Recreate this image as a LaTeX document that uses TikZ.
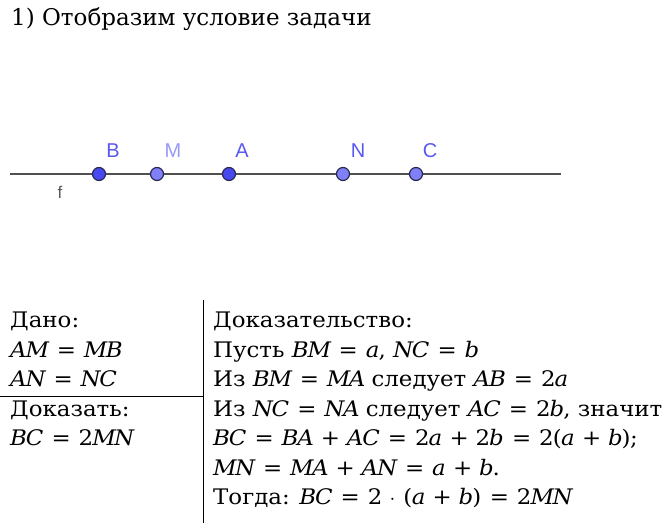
\documentclass[tikz,border=0pt]{standalone}
\usepackage{amsmath}
\usepackage[no-math]{fontspec}
\setmainfont{DejaVu Serif}[FakeStretch=1.07]
\newfontfamily\titlefont{DejaVu Serif}
\newfontfamily\mathletters{DejaVu Serif}[NFSSFamily=dvsm,FakeStretch=1.07]
\DeclareSymbolFont{letters}{TU}{dvsm}{m}{it}
\DeclareSymbolFont{operators}{TU}{dvsm}{m}{n}
\newfontfamily\ggbfont{Liberation Sans}
\thickmuskip=8mu plus 2mu
\medmuskip=7mu plus 2mu
\definecolor{ggbline}{HTML}{505050}
\definecolor{ptedge}{HTML}{2A2A55}
\definecolor{ptdark}{HTML}{4848F0}
\definecolor{ptlight}{HTML}{8080F8}
\definecolor{lblblue}{HTML}{5858F0}
\definecolor{lbllight}{HTML}{9898F8}

\begin{document}
\begin{tikzpicture}[x=1pt,y=-1pt,
    pt/.style={circle,draw=ptedge,line width=1.2pt,inner sep=0pt,minimum size=13pt},
    ptd/.style={pt,fill=ptdark},
    ptl/.style={pt,fill=ptlight},
    ptlabel/.style={inner sep=0pt,font=\ggbfont\fontsize{20}{20}\selectfont,text=lblblue},
    txt/.style={anchor=base west,inner sep=0pt,font=\rmfamily\fontsize{21.4}{29.5}\selectfont}]
    \useasboundingbox (0,0) rectangle (663,523);

    \node[anchor=base west,inner sep=0pt,font=\titlefont\fontsize{23}{30}\selectfont] (title) at (11,25) {1) Отобразим условие задачи};

    % line f with the points
    \coordinate (fl) at (10,174);
    \coordinate (fr) at (561,174);
    \draw[ggbline,line width=2.5pt] (fl) -- (fr);
    \node[ptd] (B) at (99,174) {};
    \node[ptl] (M) at (157,174) {};
    \node[ptd] (A) at (229,174) {};
    \node[ptl] (N) at (343,174) {};
    \node[ptl] (C) at (416,174) {};
    \node[ptlabel] (lB) at (113,151) {B};
    \node[ptlabel,text=lbllight] (lM) at (173,151) {M};
    \node[ptlabel] (lA) at (242,151) {A};
    \node[ptlabel] (lN) at (358,151) {N};
    \node[ptlabel] (lC) at (430,151) {C};
    \node[inner sep=0pt,font=\ggbfont\fontsize{17}{17}\selectfont,text=black!65] (lf) at (60,192) {f};

    % table rules
    \coordinate (vt) at (203,300);
    \coordinate (vb) at (203,523);
    \coordinate (hl) at (0,396);
    \coordinate (hr) at (203,396);
    \draw[line width=1pt] (vt) -- (vb);
    \draw[line width=1pt] (hl) -- (hr);

    % given / to prove
    \node[txt] (dano) at (10,327.5) {Дано:};
    \node[txt] (g1) at (10,357) {$AM = MB$};
    \node[txt] (g2) at (10,386.5) {$AN = NC$};
    \node[txt] (dok) at (10,416) {Доказать:};
    \node[txt] (p1) at (10,445.5) {$BC = 2MN$};

    % proof
    \node[txt] (proof) at (213,327.5) {Доказательство:};
    \node[txt] (s1) at (213,357) {Пусть $BM = a$, $NC = b$};
    \node[txt] (s2) at (213,386.5) {Из $BM = MA$ следует $AB = 2a$};
    \node[txt] (s3) at (213,416) {Из $NC = NA$ следует $AC = 2b$, значит};
    \node[txt] (s4) at (213,445.5) {$BC = BA + AC = 2a + 2b = 2(a + b);$};
    \node[txt] (s5) at (213,475) {$MN = MA + AN = a + b$.};
    \node[txt] (s6) at (213,504.5) {Тогда: $BC = 2 \cdot (a + b) = 2MN$};
\end{tikzpicture}
\end{document}
